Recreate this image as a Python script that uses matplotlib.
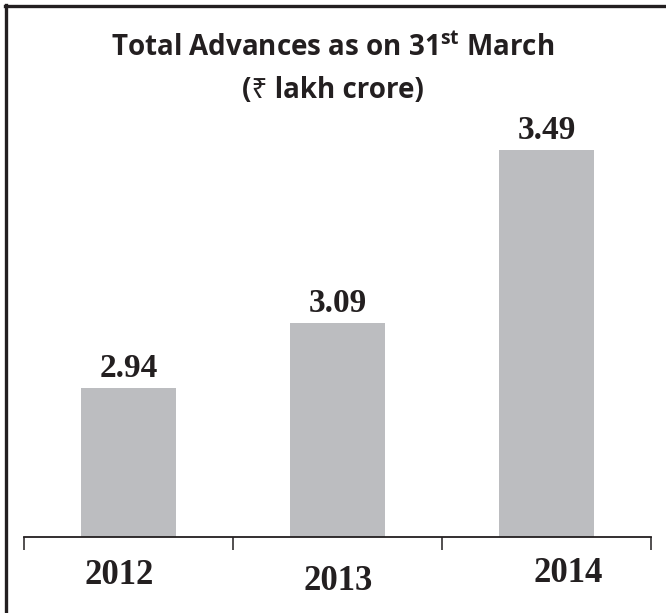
import matplotlib
matplotlib.use("Agg")
import matplotlib.pyplot as plt
from matplotlib.lines import Line2D
import matplotlib.transforms as mtransforms

years = ["2012", "2013", "2014"]
advances = [2.94, 3.09, 3.49]
title_line1 = "Total Advances as on 31$^{\\mathrm{st}}$ March"
title_line2 = "(\u20b9 lakh crore)"

INK = "#231f20"
BAR = "#bcbdc0"
TITLE_FONT = ["Open Sans", "Noto Sans", "DejaVu Sans"]
plt.rcParams["mathtext.fontset"] = "custom"
plt.rcParams["mathtext.rm"] = "Open Sans:bold"

W, H = 666, 613
fig = plt.figure(figsize=(W / 100, H / 100), dpi=100)
fig.patch.set_facecolor("white")

# axes: x from 24 to 651 px, baseline at y=537, top at y=100
ax = fig.add_axes([24 / W, (H - 537) / H, (651 - 24) / W, 437 / H])
ax.set_xlim(-0.5, 2.5)
ax.set_ylim(2.5957, 2.5957 + 437 / 432.7)

x = range(len(years))
ax.bar(x, advances, width=0.45, color=BAR, bottom=0, zorder=2)

for s in ["top", "right", "left"]:
    ax.spines[s].set_visible(False)
ax.spines["bottom"].set_color(INK)
ax.spines["bottom"].set_linewidth(1.3)
ax.set_yticks([])
ax.set_xticks([])
ax.set_xticks([-0.5, 0.5, 1.5, 2.5], minor=True)
ax.tick_params(axis="x", which="minor", direction="out", length=9.5,
               width=1.1, color=INK, labelbottom=False)

# value labels
for xi, v in zip(x, advances):
    ax.annotate(f"{v:.2f}", (xi, v), xytext=(0, 8), textcoords="offset points",
                ha="center", va="baseline", fontsize=24, fontweight="bold",
                family="Liberation Serif", color=INK)

# year labels (slightly staggered as in the original)
year_dx = [-9, 1, 22]      # px
year_dy = [-39, -45, -36]  # px below baseline
trans = mtransforms.blended_transform_factory(ax.transData, ax.transAxes)
for xi, yr, dx, dy in zip(x, years, year_dx, year_dy):
    off = mtransforms.offset_copy(trans, fig=fig, x=dx, y=dy, units="dots")
    ax.text(xi, 0, yr, transform=off, ha="center", va="center",
            fontsize=25, fontweight="bold", family="Liberation Serif", color=INK)

# title
fig.text(0.5, 1 - 48 / H, title_line1, ha="center", va="center", fontsize=20,
         fontweight="bold", family=TITLE_FONT, color=INK)
fig.text(0.5, 1 - 91 / H, title_line2, ha="center", va="center", fontsize=20,
         fontweight="bold", family=TITLE_FONT, color=INK)

# frame: only top and left edges
fig.add_artist(Line2D([5 / W, 1], [1 - 6 / H, 1 - 6 / H], transform=fig.transFigure,
                      color=INK, lw=2.4))
fig.add_artist(Line2D([6 / W, 6 / W], [0, 1 - 5 / H], transform=fig.transFigure,
                      color=INK, lw=2.4))

fig.savefig("out.png", dpi=100)
